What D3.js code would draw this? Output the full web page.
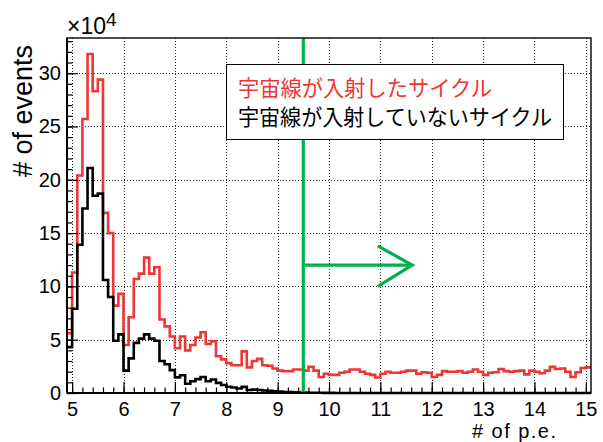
<!DOCTYPE html>
<html><head><meta charset="utf-8">
<script src="https://cdn.jsdelivr.net/npm/d3@7"></script>
<style>body{margin:0;background:#fff}svg{display:block}</style>
</head><body>
<svg id="c" width="603" height="442"></svg>
<script>
// ---- data (counts in units of 10^4) ----
const binStart = 4.9;
const binWidth = 0.1;
const redCounts = [
 5.6, 11.3, 20.4, 25.7, 31.8, 28.3, 29.4, 16.9, 15.0, 8.2,
 9.3, 4.5, 7.1, 10.7, 11.2, 12.7, 11.2, 11.8, 6.9, 6.25,
 5.3, 4.2, 5.3, 4.0, 4.5, 5.2, 5.7, 4.6, 4.85, 3.45,
 3.15, 2.8, 2.6, 2.6, 3.9, 2.4, 3.0, 3.2, 2.6, 2.55,
 2.3, 2.1, 2.05, 2.05, 2.2, 2.2, 2.1, 2.45, 2.1, 1.5,
 1.8, 1.7, 1.7, 1.9, 2.0, 2.2, 2.2, 2.0, 1.8, 1.7,
 1.45, 1.8, 2.0, 1.9, 1.9, 2.0, 2.1, 2.1, 1.8, 1.95,
 1.9, 1.5, 1.7, 2.05, 2.0, 2.0, 2.05, 1.9, 2.0, 2.2,
 2.0, 1.7, 1.9, 1.95, 2.25, 2.05, 2.0, 2.05, 2.1, 1.75,
 2.1, 2.0, 1.85, 2.1, 2.45, 2.25, 2.3, 2.0, 1.5, 1.95,
 2.35, 2.4
];
const blackCounts = [
 4.3, 7.9, 13.9, 17.3, 21.1, 18.5, 18.7, 10.6, 9.0, 4.9,
 5.5, 2.1, 3.25, 4.7, 5.1, 5.5, 5.1, 4.9, 3.0, 2.7,
 2.15, 1.47, 1.67, 0.87, 1.1, 1.3, 1.5, 1.1, 1.26, 0.95,
 0.75, 0.58, 0.52, 0.42, 0.57, 0.28, 0.32, 0.28, 0.24, 0.2,
 0.16, 0.13, 0.1, 0.08, 0.06, 0.05, 0.04, 0.03, 0.02, 0.02,
 0.01, 0.01, 0, 0, 0, 0, 0, 0, 0, 0,
 0, 0, 0, 0, 0, 0, 0, 0, 0, 0,
 0, 0, 0, 0, 0, 0, 0, 0, 0, 0,
 0, 0, 0, 0, 0, 0, 0, 0, 0, 0,
 0, 0, 0, 0, 0, 0, 0, 0, 0, 0,
 0, 0
];
const xTicks = [5, 6, 7, 8, 9, 10, 11, 12, 13, 14, 15];
const xMinorTicks = d3.range(5, 15.01, 0.2).map(v => +v.toFixed(1));
const yTicks = [0, 5, 10, 15, 20, 25, 30];
const yMinorTicks = [0,1,2,3,4,5,6,7,8,9,10,11,12,13,14,15,16,17,18,19,20,21,22,23,24,25,26,27,28,29,30,31,32,33];
const legendLabels = ["宇宙線が入射したサイクル", "宇宙線が入射していないサイクル"];
const seriesColors = ["#f03535", "#000000"];
const cutValue = 9.5;
const arrowShaft = [[9.5, 12.0], [11.62, 12.0]];
const arrowHead = [[10.95, 13.8], [11.62, 12.0], [10.95, 10.0]];
const xDomain = [4.9, 15.1];
const yDomain = [0, 33.3];

// ---- layout ----
const L = 67, R = 591, T = 38, B = 393;
const svg = d3.select("#c");
const x = d3.scaleLinear(xDomain, [L, R]);
const y = d3.scaleLinear(yDomain, [B, T]);
const font = "'Liberation Sans', Arial, Helvetica, sans-serif";

svg.append("rect").attr("width", 603).attr("height", 442).attr("fill", "#fff");

// grid
const grid = svg.append("g").attr("stroke", "#222").attr("stroke-width", 1)
  .attr("stroke-dasharray", "1,2").attr("shape-rendering", "crispEdges");
grid.selectAll(".gx").data(xTicks).join("line")
  .attr("x1", d => Math.round(x(d)) + 0.5).attr("x2", d => Math.round(x(d)) + 0.5)
  .attr("y1", T).attr("y2", B);
grid.selectAll(".gy").data(yTicks.filter(d => d > 0)).join("line")
  .attr("y1", d => Math.round(y(d)) + 0.5).attr("y2", d => Math.round(y(d)) + 0.5)
  .attr("x1", L).attr("x2", R);

// histograms
function stepPoints(counts) {
  const pts = [];
  counts.forEach((v, i) => {
    const x0 = binStart + i * binWidth, x1 = binStart + (i + 1) * binWidth;
    pts.push([x(x0), y(v)], [x(x1), y(v)]);
  });
  return pts;
}
const line = d3.line();
[[redCounts, seriesColors[0]], [blackCounts, seriesColors[1]]].forEach(([c, col]) => {
  svg.append("path").attr("d", line(stepPoints(c))).attr("fill", "none")
    .attr("stroke", col).attr("stroke-width", 2.6).attr("stroke-linejoin", "miter");
});

// green cut line and arrow
const green = "#00b04f";
svg.append("line").attr("x1", x(cutValue)).attr("x2", x(cutValue)).attr("y1", T).attr("y2", B)
  .attr("stroke", green).attr("stroke-width", 3.2);
svg.append("path").attr("d", line(arrowShaft.map(p => [x(p[0]), y(p[1])])))
  .attr("stroke", green).attr("stroke-width", 3.2).attr("fill", "none");
svg.append("path").attr("d", line(arrowHead.map(p => [x(p[0]), y(p[1])])))
  .attr("stroke", green).attr("stroke-width", 3.2).attr("fill", "none");

// axes
const xAxis = svg.append("g").attr("transform", `translate(0,${B})`)
  .call(d3.axisBottom(x).tickValues(xTicks).tickSizeInner(-11).tickSizeOuter(0).tickPadding(9).tickFormat(d3.format("d")));
const xMinor = svg.append("g").attr("transform", `translate(0,${B})`)
  .call(d3.axisBottom(x).tickValues(xMinorTicks).tickSizeInner(-5.5).tickSizeOuter(0).tickFormat(""));
const yAxis = svg.append("g").attr("transform", `translate(${L},0)`)
  .call(d3.axisLeft(y).tickValues(yTicks).tickSizeInner(-11).tickSizeOuter(0).tickPadding(6).tickFormat(d3.format("d")));
const yMinor = svg.append("g").attr("transform", `translate(${L},0)`)
  .call(d3.axisLeft(y).tickValues(yMinorTicks).tickSizeInner(-5.5).tickSizeOuter(0).tickFormat(""));
[xAxis, xMinor, yAxis, yMinor].forEach(g => {
  g.select(".domain").remove();
  g.selectAll("line").attr("stroke", "#000").attr("stroke-width", 1.2);
  g.selectAll("text").attr("font-family", font).attr("font-size", 20).attr("fill", "#000");
});

// frame
svg.append("rect").attr("x", L).attr("y", T).attr("width", R - L).attr("height", B - T)
  .attr("fill", "none").attr("stroke", "#000").attr("stroke-width", 1.4);
svg.append("line").attr("x1", L).attr("x2", R).attr("y1", B).attr("y2", B).attr("stroke", "#000").attr("stroke-width", 2);
svg.append("line").attr("x1", L).attr("x2", L).attr("y1", T).attr("y2", B).attr("stroke", "#000").attr("stroke-width", 2);

// x10^4
const mult = svg.append("text").attr("x", 67).attr("y", 34).attr("font-family", font).attr("font-size", 23);
mult.append("tspan").text("×10");
mult.append("tspan").attr("dy", -8).attr("font-size", 19).text("4");

// axis titles
svg.append("text").attr("x", 556).attr("y", 438).attr("text-anchor", "end")
  .attr("font-family", font).attr("font-size", 20)
  .attr("textLength", 84).attr("lengthAdjust", "spacing").text("# of p.e.");
svg.append("text").attr("transform", `translate(32,45) rotate(-90)`).attr("text-anchor", "end")
  .attr("font-family", font).attr("font-size", 27).text("# of events");

// legend
const lg = svg.append("g");
lg.append("rect").attr("x", 226.5).attr("y", 64.5).attr("width", 337).attr("height", 75)
  .attr("fill", "#fff").attr("stroke", "#000").attr("stroke-width", 1);
const legendWidths = [254, 314];
lg.selectAll("text").data(legendLabels).join("text")
  .attr("x", 238).attr("y", (d, i) => 96 + i * 29)
  .attr("font-family", "'Noto Sans CJK JP', sans-serif").attr("font-size", 22)
  .attr("textLength", (d, i) => legendWidths[i]).attr("lengthAdjust", "spacingAndGlyphs")
  .attr("fill", (d, i) => seriesColors[i]).text(d => d);
</script>
</body></html>
